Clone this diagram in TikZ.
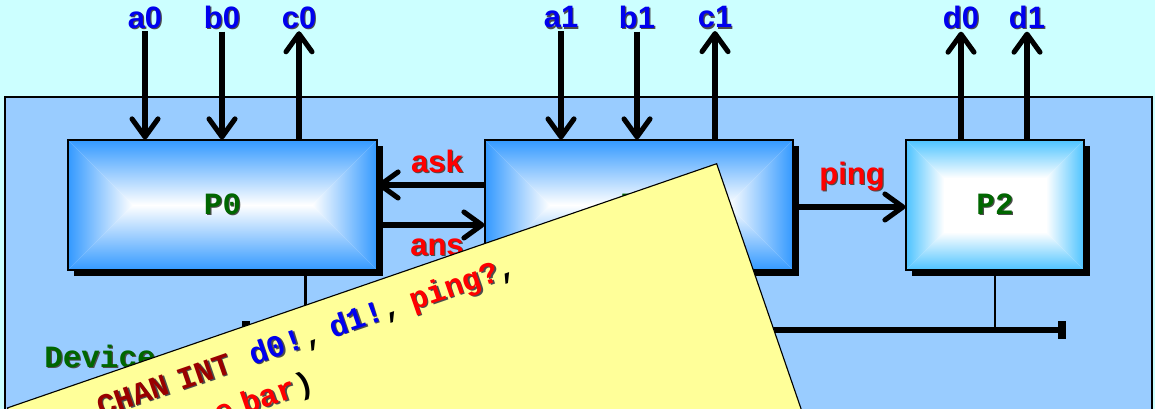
\documentclass[tikz,border=0pt]{standalone}
\usepackage{fontspec}
\setmainfont{Liberation Sans}
\setmonofont{Liberation Mono}
\usetikzlibrary{arrows.meta,calc,shadows}
\definecolor{SkyBg}{HTML}{CCFFFF}
\definecolor{DevBlue}{HTML}{99CCFF}
\definecolor{DevLight}{HTML}{E6F0FF}
\definecolor{ProcBlue}{HTML}{3399FF}
\definecolor{ProcCyan}{HTML}{4DC3FF}
\definecolor{PortBlue}{HTML}{0000EE}
\definecolor{ChanRed}{HTML}{FF0000}
\definecolor{NameGreen}{HTML}{006600}
\definecolor{KeyRed}{HTML}{990000}
\definecolor{NoteYellow}{HTML}{FFFF99}

% coloured text with a small dark drop shadow
\newcommand{\shtxt}[2]{\makebox[0pt][l]{\hspace{0.04em}\raisebox{-0.04em}{\color{black!70}#2}}\textcolor{#1}{#2}}

\tikzset{
  gradbox/.style 2 args={path picture={
      \coordinate (gSW) at (path picture bounding box.south west);
      \coordinate (gNE) at (path picture bounding box.north east);
      \coordinate (gNW) at (path picture bounding box.north west);
      \coordinate (gSE) at (path picture bounding box.south east);
      \coordinate (iSW) at ($(gSW)+(#2,#2)$);
      \coordinate (iNE) at ($(gNE)+(-#2,-#2)$);
      \coordinate (iNW) at ($(gNW)+(#2,-#2)$);
      \coordinate (iSE) at ($(gSE)+(-#2,#2)$);
      \fill[white] (gSW) rectangle (gNE);
      \shade[top color=#1,bottom color=white] (gNW) -- (gNE) -- (iNE) -- (iNW) -- cycle;
      \shade[bottom color=#1,top color=white] (gSW) -- (gSE) -- (iSE) -- (iSW) -- cycle;
      \shade[left color=#1,right color=white] (gSW) -- (gNW) -- (iNW) -- (iSW) -- cycle;
      \shade[right color=#1,left color=white] (gSE) -- (gNE) -- (iNE) -- (iSE) -- cycle;
    }},
  boxshadow/.style={drop shadow={shadow xshift=0.15cm,shadow yshift=-0.15cm,fill=black,opacity=1}}
}

\begin{document}
\begin{tikzpicture}[
    port/.style={font=\bfseries\fontsize{22}{24}\selectfont,inner sep=1pt},
    chan/.style={font=\bfseries\fontsize{22}{24}\selectfont,inner sep=1pt},
    proc/.style={draw=black,line width=0.8pt,inner sep=0pt,minimum height=3.25cm,
      font=\ttfamily\bfseries\fontsize{22}{24}\selectfont,boxshadow},
    sig/.style={line width=3.6pt,-{Straight Barb[length=4.5mm,width=6.5mm,round]}},
    bus/.style={line width=4.2pt,{Rectangle[length=2mm,width=4.5mm]}-{Rectangle[length=2mm,width=4.5mm]}},
    tap/.style={line width=1.8pt},
    note/.style={fill=NoteYellow,draw=black,line width=0.8pt,text width=18.25cm,
      inner xsep=0.25cm,inner ysep=0.3cm,text height=0.7cm,text depth=7cm,align=left,
      font=\ttfamily\bfseries\fontsize{22}{31}\selectfont}
  ]
  \useasboundingbox (0,0) rectangle (28.875,10.225);
  \clip (0,0) rectangle (28.875,10.225);
  \fill[SkyBg] (0,0) rectangle (28.875,10.225);

  % device frame
  \shade[left color=DevBlue,middle color=DevLight,right color=DevBlue,draw=black,line width=1.2pt]
    (0.125,-0.5) rectangle (28.8,7.8);
  \node[font=\ttfamily\bfseries\fontsize{22}{24}\selectfont] (devname) at (2.5,1.3) {\shtxt{NameGreen}{Device}};

  % processes
  \node[proc,gradbox={ProcBlue}{1.625cm},minimum width=7.725cm] (P0) at (5.5625,5.1) {\shtxt{NameGreen}{P0}};
  \node[proc,gradbox={ProcBlue}{1.625cm},minimum width=7.7cm] (P1) at (15.975,5.1) {\shtxt{NameGreen}{P1}};
  \node[proc,gradbox={ProcCyan}{0.95cm},minimum width=4.45cm] (P2) at (24.875,5.1) {\shtxt{NameGreen}{P2}};

  % ports
  \node[port] (a0) at (3.625,9.775) {\shtxt{PortBlue}{a0}};
  \node[port] (b0) at (5.55,9.775) {\shtxt{PortBlue}{b0}};
  \node[port] (c0) at (7.475,9.775) {\shtxt{PortBlue}{c0}};
  \node[port] (a1) at (14.025,9.775) {\shtxt{PortBlue}{a1}};
  \node[port] (b1) at (15.925,9.775) {\shtxt{PortBlue}{b1}};
  \node[port] (c1) at (17.875,9.775) {\shtxt{PortBlue}{c1}};
  \node[port] (d0) at (24.025,9.775) {\shtxt{PortBlue}{d0}};
  \node[port] (d1) at (25.675,9.775) {\shtxt{PortBlue}{d1}};

  \draw[sig] (a0) -- (a0 |- P0.north);
  \draw[sig] (b0) -- (b0 |- P0.north);
  \draw[sig] (c0 |- P0.north) -- (c0);
  \draw[sig] (a1) -- (a1 |- P1.north);
  \draw[sig] (b1) -- (b1 |- P1.north);
  \draw[sig] (c1 |- P1.north) -- (c1);
  \draw[sig] (d0 |- P2.north) -- (d0);
  \draw[sig] (d1 |- P2.north) -- (d1);

  % channels
  \node[chan] (ask) at (10.925,6.175) {\shtxt{ChanRed}{ask}};
  \node[chan] (ans) at (10.925,4.025) {\shtxt{ChanRed}{ans}};
  \node[chan] (ping) at (21.3,5.8) {\shtxt{ChanRed}{ping}};
  \draw[sig] ([yshift=0.5cm]P1.west) -- ([yshift=0.5cm]P0.east);
  \draw[sig] ([yshift=-0.5cm]P0.east) -- ([yshift=-0.5cm]P1.west);
  \draw[sig] ([yshift=-0.05cm]P1.east) -- ([yshift=-0.05cm]P2.west);

  % bus
  \coordinate (busL) at (6.05,1.975);
  \coordinate (busR) at (26.65,1.975);
  \coordinate (tap0) at ([xshift=-1.8cm]P0.south east);
  \draw[tap] (tap0) -- (tap0 |- busL);
  \draw[tap] (P2.south) -- (P2.south |- busL);
  \draw[bus] (busL) -- (busR);

  % code note
  \node[note,rotate=19,anchor=north east] (code) at (17.925,6.15)
    {\hspace*{1.885cm}\shtxt{KeyRed}{CHAN INT}\ \ \shtxt{PortBlue}{d0!}, \shtxt{PortBlue}{d1!}, \shtxt{ChanRed}{ping?},\\
     \hspace*{4.6cm}\shtxt{ChanRed}{e bar})};
\end{tikzpicture}
\end{document}
